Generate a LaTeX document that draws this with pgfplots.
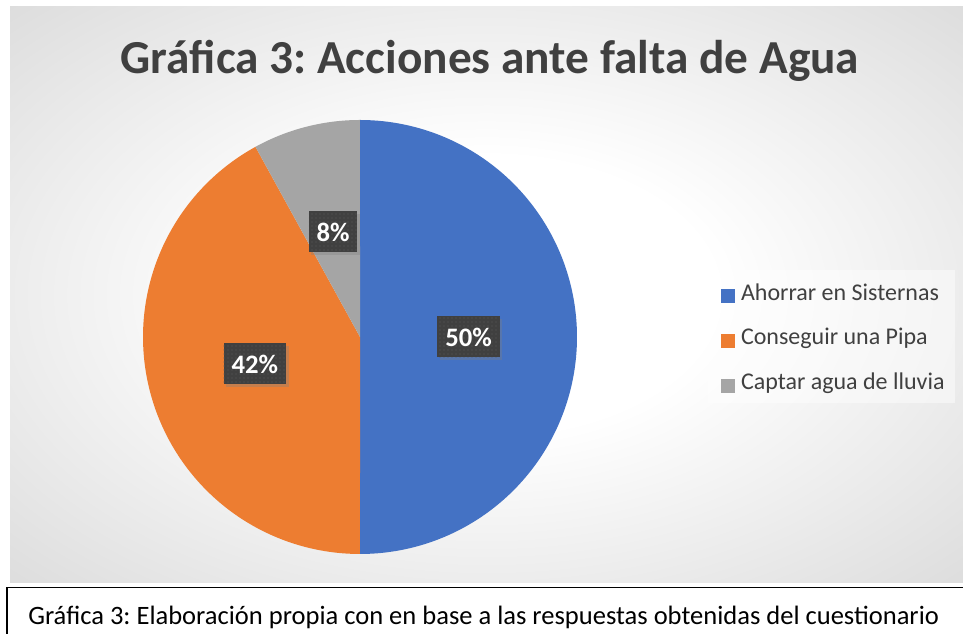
\documentclass[border=0pt]{standalone}
\usepackage{fontspec}
\setmainfont{Carlito}
\usepackage{pgfplots}
\usepackage{pgfplotstable}
\pgfplotsset{compat=1.18}
\usetikzlibrary{patterns,shadows}
\frenchspacing

\definecolor{pieblue}{HTML}{4472C4}
\definecolor{pieorange}{HTML}{ED7D31}
\definecolor{piegray}{HTML}{A5A5A5}
\definecolor{labbox}{HTML}{404040}
\definecolor{labdots}{HTML}{5A5A5A}
\definecolor{txtgray}{HTML}{404040}
\definecolor{bgedge}{HTML}{C8C8C8}

\pgfdeclareradialshading{chartbg}{\pgfpoint{0bp}{0bp}}{color(0bp)=(white); color(12bp)=(white); color(50bp)=(bgedge); color(72bp)=(bgedge)}

% share of each answer, in percent
\pgfplotstableread{
value
50
42
8
}\piedata

\begin{document}
\begin{tikzpicture}
\pgfplotstablegetelem{0}{value}\of\piedata \let\va\pgfplotsretval
\pgfplotstablegetelem{1}{value}\of\piedata \let\vb\pgfplotsretval
\pgfplotstablegetelem{2}{value}\of\piedata \let\vc\pgfplotsretval
\pgfmathsetmacro\tot{\va+\vb+\vc}
% slices run clockwise from 12 o'clock
\pgfmathsetmacro\aA{90}
\pgfmathsetmacro\aB{\aA-\va/\tot*360}
\pgfmathsetmacro\aC{\aB-\vb/\tot*360}
\pgfmathsetmacro\aD{\aC-\vc/\tot*360}
\def\cx{360}\def\cy{297}\def\R{217}
\pgfmathsetmacro\lAx{\cx+0.5*\R*cos((\aA+\aB)/2)}
\pgfmathsetmacro\lAy{\cy+0.5*\R*sin((\aA+\aB)/2)}
\pgfmathsetmacro\lBx{\cx+0.5*\R*cos((\aB+\aC)/2)}
\pgfmathsetmacro\lBy{\cy+0.5*\R*sin((\aB+\aC)/2)}
\pgfmathsetmacro\lCx{\cx+0.5*\R*cos((\aC+\aD)/2)}
\pgfmathsetmacro\lCy{\cy+0.5*\R*sin((\aC+\aD)/2)}

\tikzset{
  lab/.style={fill=labbox, text=white, font=\bfseries\fontsize{20}{24}\selectfont,
    inner xsep=6pt, inner ysep=0pt, minimum height=30.75pt, text height=14pt, text depth=0pt,
    drop shadow={shadow xshift=2pt, shadow yshift=-2pt, opacity=0.35},
    postaction={pattern=dots, pattern color=labdots}}
}

% background, 1 unit = 1 px of the reference
\begin{scope}[x=0.75pt, y=0.75pt]
\fill[white] (0,0) rectangle (963,634);
\shade[shading=chartbg] (10,51) rectangle (963,627);
\fill[white, opacity=0.45] (708,231) rectangle (955,364);
\end{scope}

\begin{axis}[
  at={(0pt,0pt)}, anchor=origin,
  scale only axis,
  width=722.25pt, height=475.5pt,
  xmin=0, xmax=963, ymin=0, ymax=634,
  hide axis, clip=false,
  legend cell align=left,
  legend image code/.code={\fill[#1] (0pt,-6.75pt) rectangle (10.5pt,3.75pt); \path (14.8pt,0pt);},
  legend style={at={(0.7352,0.5741)}, anchor=north west, draw=none, fill=none,
    font=\fontsize{18}{22}\selectfont, text=txtgray,
    inner xsep=9.75pt, inner ysep=9.5pt, row sep=16.5pt,
    nodes={inner sep=0pt, text height=13pt, text depth=4pt}},
]
\addplot[draw=none, fill=pieblue, domain=\aB:\aA, samples=150]
  ({\cx+\R*cos(x)}, {\cy+\R*sin(x)}) -- (\cx,\cy) -- cycle;
\addlegendentry{Ahorrar en Sisternas}
\addplot[draw=none, fill=pieorange, domain=\aC:\aB, samples=130]
  ({\cx+\R*cos(x)}, {\cy+\R*sin(x)}) -- (\cx,\cy) -- cycle;
\addlegendentry{Conseguir una Pipa}
\addplot[draw=none, fill=piegray, domain=\aD:\aC, samples=30]
  ({\cx+\R*cos(x)}, {\cy+\R*sin(x)}) -- (\cx,\cy) -- cycle;
\addlegendentry{Captar agua de lluvia}

\coordinate (lA) at (\lAx,\lAy);
\coordinate (lB) at (\lBx,\lBy);
\coordinate (lC) at (\lCx,\lCy);
\coordinate (ttl) at (490,560.7);
\end{axis}

\node[lab] at (lA) {\va\%};
\node[lab] at (lB) {\vb\%};
\node[lab] at (lC) {\vc\%};

\node[anchor=base, inner sep=0pt, text=txtgray, font=\bfseries\fontsize{35.5}{42}\selectfont]
  at (ttl) {Gráfica 3: Acciones ante falta de Agua};

\begin{scope}[x=0.75pt, y=0.75pt]
\draw[black, line width=1.1pt] (7,-5) rectangle (975,46.3);
\node[anchor=base west, inner sep=0pt, text=black, font=\fontsize{19.9}{24}\selectfont]
  at (28,9) {Gráfica 3: Elaboración propia con en base a las respuestas obtenidas del cuestionario};
\end{scope}
\pgfresetboundingbox
\useasboundingbox (0,0) rectangle (722.25pt,475.5pt);
\end{tikzpicture}
\end{document}
